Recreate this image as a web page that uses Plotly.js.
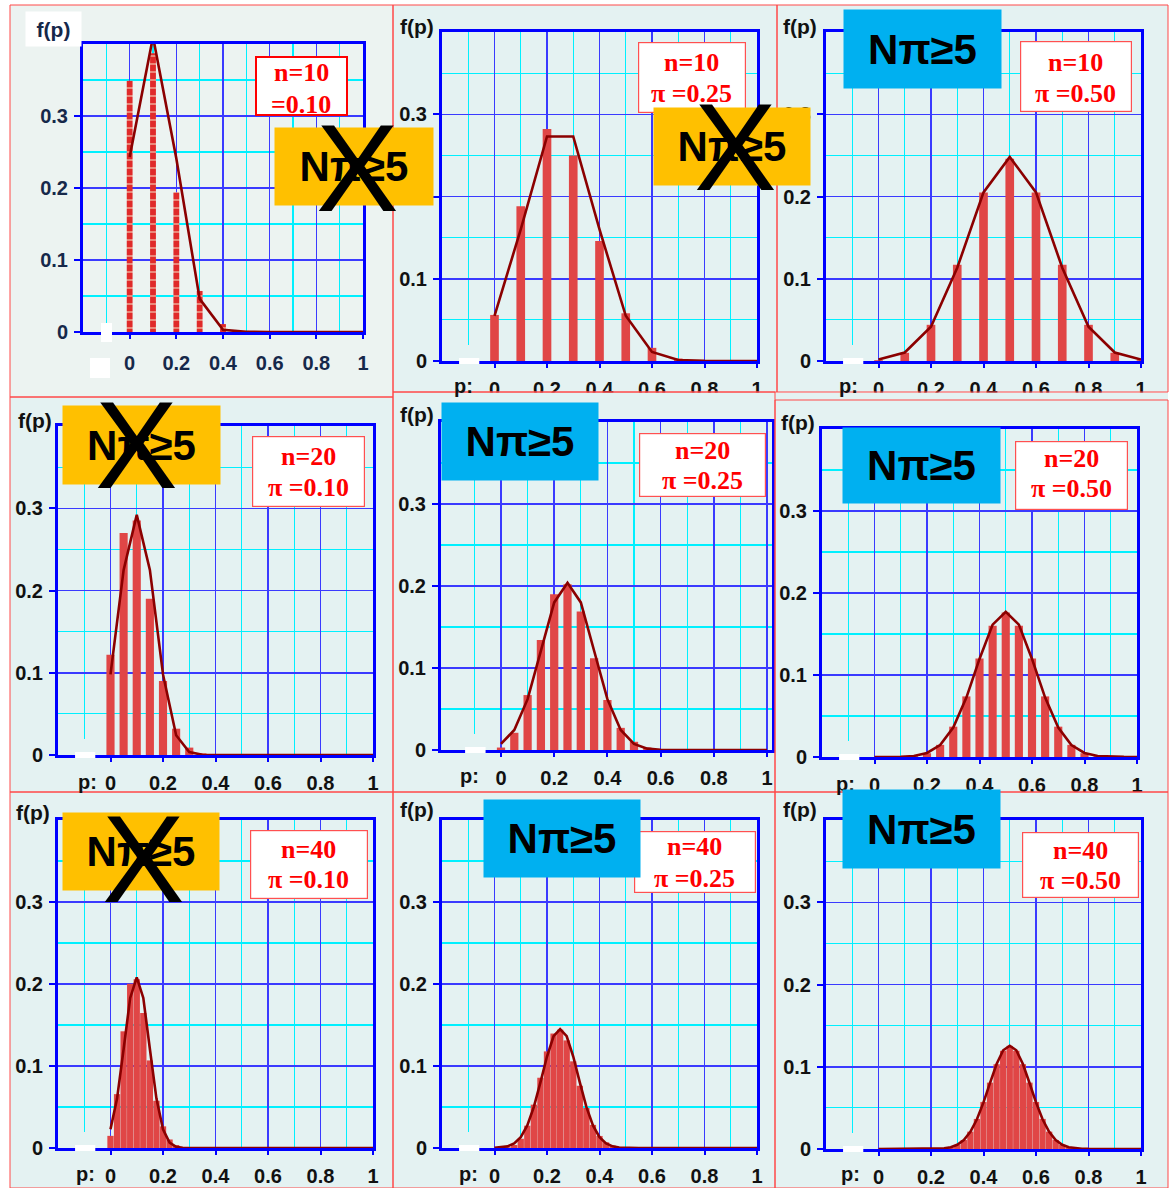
<!DOCTYPE html>
<html><head><meta charset="utf-8">
<script src="https://cdn.plot.ly/plotly-3.0.1.min.js"></script>
<style>body{margin:0;padding:0;background:#fff}#chart{width:1169px;height:1188px}</style>
</head><body><div id="chart"></div>
<script>
// ---- data ----
const p10 = [0,0.1,0.2,0.3,0.4,0.5,0.6,0.7,0.8,0.9,1];
const p20 = [0,0.05,0.1,0.15,0.2,0.25,0.3,0.35,0.4,0.45,0.5,0.55,0.6,0.65,0.7,0.75,0.8,0.85,0.9,0.95,1];
const p40 = [0,0.025,0.05,0.075,0.1,0.125,0.15,0.175,0.2,0.225,0.25,0.275,0.3,0.325,0.35,0.375,0.4,0.425,0.45,0.475,0.5,0.525,0.55,0.575,0.6,0.625,0.65,0.675,0.7,0.725,0.75,0.775,0.8,0.825,0.85,0.875,0.9,0.925,0.95,0.975,1];

const bars_10_10 = [0.349,0.387,0.194,0.057,0.011,0.0015,0,0,0,0,0];
const line_10_10 = [0.243,0.41,0.241,0.046,0.003,0.0002,0,0,0,0,0];
const bars_10_25 = [0.056,0.188,0.282,0.250,0.146,0.058,0.016,0.003,0.0004,0,0];
const line_10_25 = [0.055,0.160,0.273,0.273,0.160,0.055,0.011,0.0013,0.0001,0,0];
const bars_10_50 = [0.001,0.010,0.044,0.117,0.205,0.246,0.205,0.117,0.044,0.010,0.001];
const line_10_50 = [0.0017,0.0103,0.0417,0.1134,0.2050,0.2480,0.2050,0.1134,0.0417,0.0103,0.0017];

const bars_20_10 = [0.122,0.270,0.285,0.190,0.090,0.032,0.009,0.002,0.0004,0.0001,0,0,0,0,0,0,0,0,0,0,0];
const line_20_10 = [0.098,0.225,0.292,0.225,0.098,0.024,0.0035,0.0003,0,0,0,0,0,0,0,0,0,0,0,0,0];
const bars_20_25 = [0.003,0.021,0.067,0.134,0.190,0.202,0.169,0.112,0.061,0.027,0.010,0.003,0.0008,0.0002,0,0,0,0,0,0,0];
const line_20_25 = [0.0074,0.0244,0.062,0.121,0.180,0.204,0.180,0.121,0.062,0.0244,0.0074,0.0017,0.0003,0,0,0,0,0,0,0,0];
const bars_20_50 = [0,0,0.0002,0.0011,0.0046,0.0148,0.037,0.0739,0.1201,0.1602,0.1762,0.1602,0.1201,0.0739,0.037,0.0148,0.0046,0.0011,0.0002,0,0];
const line_20_50 = [0,0.0001,0.0003,0.0013,0.0049,0.0146,0.036,0.0725,0.1196,0.1614,0.1770,0.1614,0.1196,0.0725,0.036,0.0146,0.0049,0.0013,0.0003,0.0001,0];

const bars_40_10 = [0.0148,0.0657,0.1423,0.2003,0.2059,0.1647,0.1068,0.0576,0.0264,0.0104,0.0036,0.0011,0.0003,0.0001,0,0,0,0,0,0,0,0,0,0,0,0,0,0,0,0,0,0,0,0,0,0,0,0,0,0,0];
const line_40_10 = [0.0228,0.0603,0.1207,0.1830,0.2080,0.1830,0.1207,0.0603,0.0228,0.0065,0.0014,0.0002,0,0,0,0,0,0,0,0,0,0,0,0,0,0,0,0,0,0,0,0,0,0,0,0,0,0,0,0,0];
const bars_40_25 = [0,0.0001,0.0009,0.0037,0.0113,0.0272,0.0529,0.0857,0.1178,0.1396,0.1443,0.1312,0.1057,0.0759,0.0488,0.0282,0.0147,0.0069,0.0029,0.0011,0.0004,0.0001,0,0,0,0,0,0,0,0,0,0,0,0,0,0,0,0,0,0,0];
const line_40_25 = [0.0002,0.0007,0.0020,0.0056,0.0132,0.0275,0.0502,0.0800,0.1116,0.1363,0.1450,0.1363,0.1116,0.0800,0.0502,0.0275,0.0132,0.0056,0.0020,0.0007,0.0002,0.0001,0,0,0,0,0,0,0,0,0,0,0,0,0,0,0,0,0,0,0];
const bars_40_50 = [0,0,0,0,0,0,0,0,0.0001,0.0003,0.0008,0.0021,0.0051,0.0109,0.0211,0.0366,0.0572,0.0807,0.1031,0.1194,0.1254,0.1194,0.1031,0.0807,0.0572,0.0366,0.0211,0.0109,0.0051,0.0021,0.0008,0.0003,0.0001,0,0,0,0,0,0,0,0];
const line_40_50 = [0,0,0,0,0,0,0,0,0.0001,0.0003,0.0009,0.0022,0.0051,0.0109,0.0209,0.0362,0.0567,0.0805,0.1033,0.1200,0.1255,0.1200,0.1033,0.0805,0.0567,0.0362,0.0209,0.0109,0.0051,0.0022,0.0009,0.0003,0.0001,0,0,0,0,0,0,0,0];

const xTickVals = [0,0.2,0.4,0.6,0.8,1];
const xTickText = ['0','0.2','0.4','0.6','0.8','1'];
const xMinorVals = [-0.1,0.1,0.3,0.5,0.7,0.9];
const yTickVals = [0,0.1,0.2,0.3];
const yTickText = ['0','0.1','0.2','0.3'];
const yMinorVals = [0.05,0.15,0.25,0.35];
const nLabels = ['n=10','n=10','n=10','n=20','n=20','n=20','n=40','n=40','n=40'];
const piLabels = ['=0.10','\u03c0 =0.25','\u03c0 =0.50','\u03c0 =0.10','\u03c0 =0.25','\u03c0 =0.50','\u03c0 =0.10','\u03c0 =0.25','\u03c0 =0.50'];
const badgeText = 'N\u03c0\u22655';

// ---- layout geometry (pixels) ----
const W = 1169, H = 1188;
const ORANGE = '#ffc000', BLUE = '#00b0f0';
const panels = [
 {xs:p10, b:bars_10_10, l:line_10_10, bw:0.025, pat:true, rect:[10,5,393,397], px:[83,363], py:[44,332], xr:[-0.2,1], fp:[53,29], pp:null,
  box:[255,56,347,115], t1:73, t2:105, badge:[275,128,433,205], bc:ORANGE, X:[357,167]},
 {xs:p10, b:bars_10_25, l:line_10_25, bw:0.033, rect:[393,5,777,392], px:[442,757], py:[32,361], xr:[-0.2,1], fp:[417,27], pp:[463,386],
  box:[637,42,746,114], t1:63, t2:93, badge:[654,108,810,185], bc:ORANGE, X:[735,146]},
 {xs:p10, b:bars_10_50, l:line_10_50, bw:0.033, rect:[777,5,1168,392], px:[826,1141], py:[32,361], xr:[-0.2,1], fp:[800,27], pp:[848,386],
  box:[1019,40,1132,112], t1:62, t2:93, badge:[844,10,1001,88], bc:BLUE},
 {xs:p20, b:bars_20_10, l:line_20_10, bw:0.031, rect:[10,397,393,792], px:[58,373], py:[426,755], xr:[-0.2,1], fp:[35,420], pp:[87,782],
  box:[251,436,365,508], t1:456, t2:487, badge:[63,406,220,484], bc:ORANGE, X:[136,444]},
 {xs:p20, b:bars_20_25, l:line_20_25, bw:0.031, rect:[393,392,775,792], px:[441,772], py:[422,750], xr:[-0.2256,1.0188], fp:[417,415], pp:[470,776],
  box:[638,432,766,497], t1:450, t2:481, badge:[442,403,598,480], bc:BLUE},
 {xs:p20, b:bars_20_50, l:line_20_50, bw:0.031, rect:[775,400,1168,792], px:[822,1137], py:[429,757], xr:[-0.2,1], fp:[798,422], pp:[845,784],
  box:[1014,440,1128,510], t1:458, t2:489, badge:[843,428,1000,503], bc:BLUE},
 {xs:p40, b:bars_40_10, l:line_40_10, bw:0.024, rect:[10,792,393,1188], px:[58,373], py:[820,1148], xr:[-0.2,1], fp:[33,812], pp:[85,1174],
  box:[249,829,368,899], t1:849, t2:879, badge:[63,813,219,890], bc:ORANGE, X:[143,858]},
 {xs:p40, b:bars_40_25, l:line_40_25, bw:0.024, rect:[393,792,775,1188], px:[442,757], py:[820,1148], xr:[-0.2,1], fp:[417,810], pp:[468,1174],
  box:[633,830,756,893], t1:847, t2:878, badge:[484,800,640,877], bc:BLUE},
 {xs:p40, b:bars_40_50, l:line_40_50, bw:0.024, rect:[775,792,1168,1188], px:[826,1141], py:[820,1149], xr:[-0.2,1], fp:[800,810], pp:[850,1174],
  box:[1021,831,1139,898], t1:850, t2:880, badge:[843,790,1000,868], bc:BLUE}
];

const fx = v => v / W, fy = v => 1 - v / H;
const BG = '#e4f2f2', BG1 = '#ecf3f1';
const traces = [], shapes = [], annotations = [];
const layout = {width:W, height:H, margin:{l:0,r:0,t:0,b:0}, paper_bgcolor:'#ffffff', plot_bgcolor:'rgba(0,0,0,0)', showlegend:false};

panels.forEach((P, i) => {
  const k = i + 1, sx = k === 1 ? '' : String(k);
  const tc = k === 1 ? '#16284a' : '#111111';
  const tf = {family:'Liberation Sans', size:20, weight:'bold', color:tc};
  layout['xaxis' + sx] = {
    domain:[fx(P.px[0]), fx(P.px[1])], range:P.xr, anchor:'y' + sx,
    tickmode:'array', tickvals:xTickVals, ticktext:xTickText,
    showgrid:true, gridcolor:'#3a3aff', gridwidth:1.5,
    minor:{tickmode:'array', tickvals:xMinorVals, showgrid:true, gridcolor:'#00f0ff', gridwidth:1.2, ticks:''},
    showline:true, linecolor:'#0000ff', linewidth:3, mirror:true,
    ticks:'outside', ticklen:4, tickwidth:2, tickcolor:'#0000ff',
    tickfont:tf, ticklabelstandoff:k === 1 ? 7 : 4,
    zeroline:false, fixedrange:true
  };
  layout['yaxis' + sx] = {
    domain:[fy(P.py[1]), fy(P.py[0])], range:[0,0.4], anchor:'x' + sx,
    tickmode:'array', tickvals:yTickVals, ticktext:yTickText,
    showgrid:true, gridcolor:'#3a3aff', gridwidth:1.5,
    minor:{tickmode:'array', tickvals:yMinorVals, showgrid:true, gridcolor:'#00f0ff', gridwidth:1.2, ticks:''},
    showline:true, linecolor:'#0000ff', linewidth:3, mirror:true,
    ticks:'outside', ticklen:6, tickwidth:2, tickcolor:'#0000ff',
    tickfont:tf, ticklabelstandoff:2,
    zeroline:false, fixedrange:true
  };
  const marker = P.pat
    ? {color:'#e03a3a', line:{width:0}, pattern:{shape:'-', fgcolor:'#f4c8b0', bgcolor:'#e02a2a', size:8, solidity:0.15}}
    : {color:'#e04646', line:{width:0}};
  traces.push({type:'bar', x:P.xs, y:P.b, width:P.bw, xaxis:'x' + sx, yaxis:'y' + sx, marker:marker, hoverinfo:'skip'});
  traces.push({type:'scatter', mode:'lines', x:P.xs, y:P.l, xaxis:'x' + sx, yaxis:'y' + sx, line:{color:'#8b0000', width:2.6}, hoverinfo:'skip'});

  // panel background
  shapes.push({type:'rect', xref:'paper', yref:'paper', layer:'below', x0:fx(P.rect[0]), x1:fx(P.rect[2]), y0:fy(P.rect[3]), y1:fy(P.rect[1]),
    fillcolor:k === 1 ? BG1 : BG, line:{width:0}});
  // gap in the x axis line
  const axY = P.py[1];
  if (k === 1) {
    shapes.push({type:'rect', xref:'paper', yref:'paper', layer:'above', x0:fx(101), x1:fx(112), y0:fy(342), y1:fy(323), fillcolor:'#ffffff', line:{width:0}});
    shapes.push({type:'rect', xref:'paper', yref:'paper', layer:'above', x0:fx(90), x1:fx(110), y0:fy(378), y1:fy(358), fillcolor:'#ffffff', line:{width:0}});
  } else {
    shapes.push({type:'rect', xref:'x' + sx, yref:'paper', layer:'above', x0:-0.135, x1:-0.058, y0:fy(axY - 3), y1:fy(axY - 16), fillcolor:BG, line:{width:0}});
    shapes.push({type:'rect', xref:'x' + sx, yref:'paper', layer:'above', x0:-0.135, x1:-0.058, y0:fy(axY + 3), y1:fy(axY - 3), fillcolor:'#ffffff', line:{width:0}});
  }
  // f(p)
  annotations.push({xref:'paper', yref:'paper', x:fx(P.fp[0]), y:fy(P.fp[1]), text:'f(p)', showarrow:false, xanchor:'center', yanchor:'middle',
    font:{family:'Liberation Sans', size:21, weight:'bold', color:tc},
    bgcolor:k === 1 ? '#ffffff' : 'rgba(0,0,0,0)', width:k === 1 ? 55 : null, height:k === 1 ? 34 : null, borderpad:0});
  if (P.pp) annotations.push({xref:'paper', yref:'paper', x:fx(P.pp[0]), y:fy(P.pp[1]), text:'p:', showarrow:false, xanchor:'center', yanchor:'middle',
    font:{family:'Liberation Sans', size:20, weight:'bold', color:tc}});
});

// n / pi boxes
panels.forEach((P, i) => {
  const b = P.box, cx = fx((b[0] + b[2]) / 2);
  annotations.push({xref:'paper', yref:'paper', x:cx, y:fy((b[1] + b[3]) / 2), xanchor:'center', yanchor:'middle',
    text:' ', showarrow:false,
    bgcolor:'#ffffff', bordercolor:i === 0 ? '#ff0000' : '#ff5050', borderwidth:i === 0 ? 2 : 1.2, borderpad:0,
    width:b[2] - b[0] - 3, height:b[3] - b[1] - 3});
  const f = {family:'Liberation Serif', size:26, weight:'bold', color:'#ff0000'};
  annotations.push({xref:'paper', yref:'paper', x:cx, y:fy(P.t1), xanchor:'center', yanchor:'middle', text:nLabels[i], showarrow:false, font:f});
  annotations.push({xref:'paper', yref:'paper', x:cx, y:fy(P.t2), xanchor:'center', yanchor:'middle', text:piLabels[i], showarrow:false, font:f});
});
// badges
panels.forEach((P, i) => {
  const b = P.badge;
  annotations.push({xref:'paper', yref:'paper', x:fx((b[0] + b[2]) / 2), y:fy((b[1] + b[3]) / 2), xanchor:'center', yanchor:'middle',
    text:badgeText, showarrow:false, font:{family:'Liberation Sans', size:42, weight:'bold', color:'#000000'},
    bgcolor:P.bc, borderpad:0, width:b[2] - b[0], height:b[3] - b[1]});
});
// crosses
panels.forEach((P, i) => {
  if (!P.X) return;
  annotations.push({xref:'paper', yref:'paper', x:fx(P.X[0]), y:fy(P.X[1] + 1), xanchor:'center', yanchor:'middle',
    text:'X', showarrow:false, font:{family:'Liberation Sans', size:124, color:'#000000'}});
});
// label cut strips and panel borders
shapes.push({type:'rect', xref:'paper', yref:'paper', layer:'above', x0:fx(393), x1:fx(1168), y0:fy(400), y1:fy(392.5), fillcolor:BG, line:{width:0}});
shapes.push({type:'rect', xref:'paper', yref:'paper', layer:'above', x0:fx(775), x1:fx(1168), y0:fy(797), y1:fy(792.5), fillcolor:BG, line:{width:0}});
panels.forEach(P => {
  shapes.push({type:'rect', xref:'paper', yref:'paper', layer:'above', x0:fx(P.rect[0]), x1:fx(P.rect[2]), y0:fy(P.rect[3]), y1:fy(P.rect[1]),
    fillcolor:'rgba(0,0,0,0)', line:{color:'#ff4848', width:1}});
});
layout.shapes = shapes;
layout.annotations = annotations;
Plotly.newPlot('chart', traces, layout, {staticPlot:true});
</script>
</body></html>
